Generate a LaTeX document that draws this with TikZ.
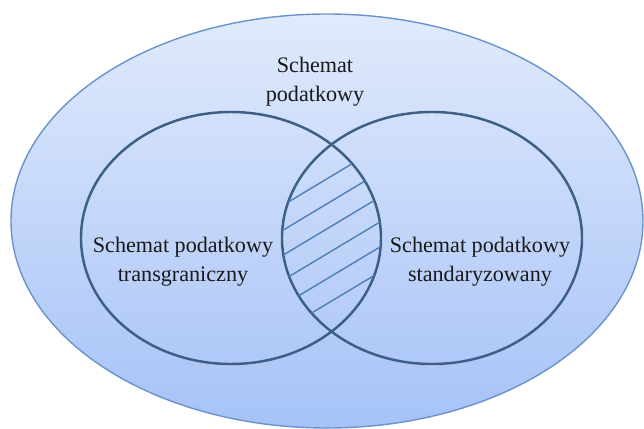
\documentclass[tikz,border=0pt]{standalone}
\usepackage{fontspec}
\setmainfont{Liberation Serif}
\usetikzlibrary{shapes.geometric, positioning}

\definecolor{rimblue}{HTML}{6A93CC}
\definecolor{setblue}{HTML}{3C5F85}
\definecolor{hatchblue}{HTML}{4F7FB8}
\definecolor{topfill}{HTML}{E0EAFC}
\definecolor{bottomfill}{HTML}{A6C2F7}

\begin{document}
\begin{tikzpicture} [
						x=0.2mm, y=-0.2mm,
						universe/.style={ellipse, draw=rimblue, line width=0.8pt,
							top color=topfill, bottom color=bottomfill,
							minimum width=126.4mm, minimum height=82.8mm},
						set/.style={ellipse, draw=setblue, line width=1.4pt,
							minimum width=60mm, minimum height=50.4mm},
						hatch/.style={draw=hatchblue, line width=0.8pt},
						caption/.style={align=center, inner sep=0pt, text=black!90,
							font=\fontsize{12.6pt}{16.4pt}\selectfont}
					]

\useasboundingbox (0,0) rectangle (644,429);

\node (all) [universe] at (327,221) {};
\node (left) [set] at (231,238) {};
\node (right) [set] at (432,238) {};

% hatched common part
\begin{scope}
	\clip (left.center) ellipse [x radius=30mm, y radius=25.2mm];
	\clip (right.center) ellipse [x radius=30mm, y radius=25.2mm];
	\foreach \k in {195,220,...,320}
		\draw[hatch] (260,{\k+24}) -- (400,{\k-60});
\end{scope}

\node (title) [caption] at (315,82) {Schemat\\podatkowy};
\node (lefttext) [caption] at (183,262) {Schemat podatkowy\\transgraniczny};
\node (righttext) [caption] at (480,262) {Schemat podatkowy\\standaryzowany};

\end{tikzpicture}
\end{document}
